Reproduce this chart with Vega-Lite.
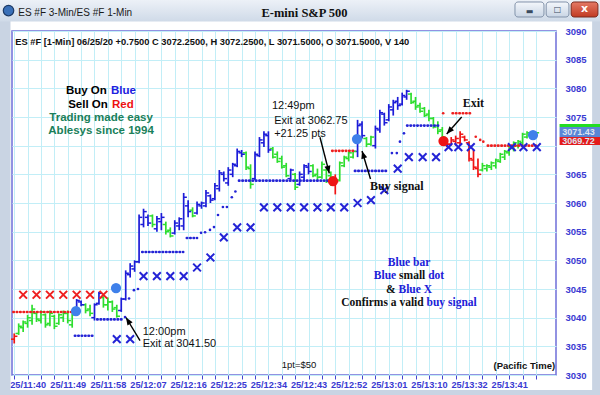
{
"$schema":"https://vega.github.io/schema/vega-lite/v6.json",
"width":544,"height":344,
"autosize":{"type":"none"},
"padding":{"left":12,"top":31,"right":44,"bottom":20},
"background":"#ffffff",
"config":{"view":{"stroke":"#6f6fd9","strokeWidth":1.5}},
"resolve":{"scale":{"color":"independent"}},
"datasets":{
"bars":[
{"i":0,"l":3035.5,"h":3037.25,"o":3036.25,"c":3036.75,"s":"sell"},
{"i":1,"l":3037.0,"h":3039.0,"o":3037.25,"c":3038.5,"s":"hold"},
{"i":2,"l":3037.5,"h":3039.5,"o":3038.25,"c":3039.25,"s":"hold"},
{"i":3,"l":3038.25,"h":3040.5,"o":3039.0,"c":3040.0,"s":"hold"},
{"i":4,"l":3038.75,"h":3042.25,"o":3039.5,"c":3041.5,"s":"hold"},
{"i":5,"l":3039.25,"h":3041.0,"o":3040.75,"c":3039.75,"s":"hold"},
{"i":6,"l":3039.0,"h":3041.25,"o":3039.5,"c":3041.0,"s":"hold"},
{"i":7,"l":3038.25,"h":3040.75,"o":3040.5,"c":3038.75,"s":"hold"},
{"i":8,"l":3038.5,"h":3041.25,"o":3039.0,"c":3040.75,"s":"hold"},
{"i":9,"l":3038.0,"h":3040.5,"o":3040.25,"c":3038.5,"s":"hold"},
{"i":10,"l":3038.75,"h":3040.75,"o":3039.0,"c":3040.5,"s":"hold"},
{"i":11,"l":3039.25,"h":3041.25,"o":3040.0,"c":3040.75,"s":"hold"},
{"i":12,"l":3039.0,"h":3041.25,"o":3040.75,"c":3039.5,"s":"hold"},
{"i":13,"l":3038.25,"h":3040.75,"o":3038.75,"c":3040.5,"s":"hold"},
{"i":14,"l":3041.25,"h":3043.25,"o":3041.5,"c":3043.0,"s":"buy"},
{"i":15,"l":3042.0,"h":3043.0,"o":3042.75,"c":3042.25,"s":"buy"},
{"i":16,"l":3040.75,"h":3042.5,"o":3042.25,"c":3041.25,"s":"hold"},
{"i":17,"l":3040.25,"h":3042.25,"o":3041.5,"c":3040.75,"s":"hold"},
{"i":18,"l":3039.5,"h":3042.5,"o":3040.0,"c":3042.25,"s":"buy"},
{"i":19,"l":3042.25,"h":3044.5,"o":3042.5,"c":3044.25,"s":"buy"},
{"i":20,"l":3041.75,"h":3043.75,"o":3043.5,"c":3042.25,"s":"hold"},
{"i":21,"l":3041.25,"h":3043.5,"o":3042.25,"c":3042.75,"s":"hold"},
{"i":22,"l":3041.0,"h":3043.0,"o":3042.75,"c":3041.5,"s":"hold"},
{"i":23,"l":3040.0,"h":3042.25,"o":3041.75,"c":3040.25,"s":"hold"},
{"i":24,"l":3041.0,"h":3043.5,"o":3041.25,"c":3043.25,"s":"buy"},
{"i":25,"l":3043.0,"h":3048.25,"o":3043.25,"c":3047.75,"s":"buy"},
{"i":26,"l":3047.0,"h":3049.5,"o":3047.5,"c":3049.0,"s":"buy"},
{"i":27,"l":3048.0,"h":3050.0,"o":3048.5,"c":3049.75,"s":"buy"},
{"i":28,"l":3049.5,"h":3058.0,"o":3049.75,"c":3057.5,"s":"buy"},
{"i":29,"l":3055.75,"h":3059.0,"o":3056.25,"c":3058.5,"s":"buy"},
{"i":30,"l":3056.0,"h":3058.0,"o":3057.5,"c":3056.5,"s":"buy"},
{"i":31,"l":3055.75,"h":3058.0,"o":3057.75,"c":3056.25,"s":"hold"},
{"i":32,"l":3055.0,"h":3057.75,"o":3055.5,"c":3057.25,"s":"buy"},
{"i":33,"l":3055.25,"h":3058.25,"o":3056.75,"c":3057.5,"s":"buy"},
{"i":34,"l":3054.5,"h":3056.75,"o":3056.25,"c":3055.0,"s":"hold"},
{"i":35,"l":3054.0,"h":3055.75,"o":3055.25,"c":3054.25,"s":"hold"},
{"i":36,"l":3054.5,"h":3057.0,"o":3054.75,"c":3056.5,"s":"buy"},
{"i":37,"l":3055.25,"h":3057.5,"o":3056.0,"c":3057.25,"s":"buy"},
{"i":38,"l":3055.25,"h":3061.75,"o":3056.0,"c":3061.0,"s":"buy"},
{"i":39,"l":3057.5,"h":3060.5,"o":3059.5,"c":3058.5,"s":"buy"},
{"i":40,"l":3057.5,"h":3059.25,"o":3058.75,"c":3057.75,"s":"hold"},
{"i":41,"l":3058.0,"h":3060.25,"o":3058.25,"c":3059.75,"s":"buy"},
{"i":42,"l":3059.0,"h":3060.25,"o":3059.5,"c":3060.0,"s":"buy"},
{"i":43,"l":3059.25,"h":3062.25,"o":3059.5,"c":3061.75,"s":"buy"},
{"i":44,"l":3060.0,"h":3061.5,"o":3061.25,"c":3060.5,"s":"buy"},
{"i":45,"l":3060.5,"h":3063.5,"o":3060.75,"c":3063.0,"s":"buy"},
{"i":46,"l":3062.0,"h":3065.75,"o":3062.5,"c":3065.25,"s":"buy"},
{"i":47,"l":3063.75,"h":3065.5,"o":3065.0,"c":3064.25,"s":"buy"},
{"i":48,"l":3063.0,"h":3066.25,"o":3063.5,"c":3065.75,"s":"buy"},
{"i":49,"l":3064.5,"h":3067.0,"o":3065.0,"c":3066.75,"s":"buy"},
{"i":50,"l":3066.25,"h":3069.5,"o":3066.5,"c":3069.0,"s":"buy"},
{"i":51,"l":3068.0,"h":3069.25,"o":3068.75,"c":3068.5,"s":"buy"},
{"i":52,"l":3065.75,"h":3069.0,"o":3068.75,"c":3066.25,"s":"hold"},
{"i":53,"l":3062.5,"h":3066.75,"o":3066.0,"c":3063.25,"s":"hold"},
{"i":54,"l":3064.0,"h":3069.0,"o":3064.25,"c":3068.5,"s":"buy"},
{"i":55,"l":3068.0,"h":3071.5,"o":3068.25,"c":3071.0,"s":"buy"},
{"i":56,"l":3069.75,"h":3072.5,"o":3070.5,"c":3072.0,"s":"buy"},
{"i":57,"l":3068.75,"h":3072.5,"o":3071.75,"c":3069.25,"s":"buy"},
{"i":58,"l":3067.75,"h":3069.75,"o":3069.5,"c":3068.0,"s":"hold"},
{"i":59,"l":3067.0,"h":3069.0,"o":3068.5,"c":3067.25,"s":"hold"},
{"i":60,"l":3066.0,"h":3068.25,"o":3067.75,"c":3066.25,"s":"hold"},
{"i":61,"l":3064.5,"h":3067.0,"o":3066.5,"c":3064.75,"s":"hold"},
{"i":62,"l":3064.0,"h":3066.0,"o":3064.25,"c":3065.75,"s":"buy"},
{"i":63,"l":3062.25,"h":3065.25,"o":3065.0,"c":3062.75,"s":"hold"},
{"i":64,"l":3063.0,"h":3065.5,"o":3063.25,"c":3065.0,"s":"buy"},
{"i":65,"l":3064.0,"h":3066.75,"o":3064.5,"c":3066.5,"s":"buy"},
{"i":66,"l":3065.0,"h":3067.0,"o":3066.25,"c":3065.5,"s":"buy"},
{"i":67,"l":3064.5,"h":3066.75,"o":3066.5,"c":3064.75,"s":"hold"},
{"i":68,"l":3064.0,"h":3066.0,"o":3065.0,"c":3064.5,"s":"hold"},
{"i":69,"l":3064.25,"h":3067.25,"o":3064.5,"c":3066.75,"s":"hold"},
{"i":70,"l":3063.5,"h":3066.0,"o":3065.75,"c":3063.75,"s":"hold"},
{"i":71,"l":3063.0,"h":3065.5,"o":3064.75,"c":3063.5,"s":"hold"},
{"i":72,"l":3061.5,"h":3065.0,"o":3063.5,"c":3063.75,"s":"sell"},
{"i":73,"l":3063.75,"h":3067.25,"o":3064.0,"c":3067.0,"s":"hold"},
{"i":74,"l":3066.25,"h":3068.25,"o":3066.5,"c":3068.0,"s":"hold"},
{"i":75,"l":3067.25,"h":3069.0,"o":3067.75,"c":3068.75,"s":"hold"},
{"i":76,"l":3067.75,"h":3069.25,"o":3068.0,"c":3069.0,"s":"hold"},
{"i":77,"l":3068.0,"h":3074.5,"o":3069.0,"c":3073.5,"s":"buy"},
{"i":78,"l":3071.25,"h":3074.25,"o":3073.75,"c":3071.75,"s":"buy"},
{"i":79,"l":3069.75,"h":3071.5,"o":3071.25,"c":3070.25,"s":"hold"},
{"i":80,"l":3070.0,"h":3071.75,"o":3070.25,"c":3071.5,"s":"hold"},
{"i":81,"l":3069.5,"h":3073.5,"o":3070.0,"c":3073.0,"s":"buy"},
{"i":82,"l":3072.25,"h":3076.25,"o":3072.75,"c":3075.75,"s":"buy"},
{"i":83,"l":3073.5,"h":3075.75,"o":3075.5,"c":3074.0,"s":"buy"},
{"i":84,"l":3074.25,"h":3077.25,"o":3074.5,"c":3076.75,"s":"buy"},
{"i":85,"l":3075.25,"h":3078.0,"o":3076.25,"c":3077.5,"s":"buy"},
{"i":86,"l":3076.25,"h":3078.5,"o":3077.75,"c":3077.0,"s":"buy"},
{"i":87,"l":3077.0,"h":3079.25,"o":3077.25,"c":3078.75,"s":"buy"},
{"i":88,"l":3078.0,"h":3079.75,"o":3078.5,"c":3079.5,"s":"buy"},
{"i":89,"l":3077.25,"h":3079.25,"o":3079.0,"c":3077.5,"s":"hold"},
{"i":90,"l":3076.25,"h":3078.5,"o":3077.75,"c":3076.75,"s":"hold"},
{"i":91,"l":3075.75,"h":3077.5,"o":3077.0,"c":3076.0,"s":"hold"},
{"i":92,"l":3075.0,"h":3076.75,"o":3076.5,"c":3075.25,"s":"hold"},
{"i":93,"l":3074.25,"h":3076.25,"o":3075.5,"c":3074.75,"s":"hold"},
{"i":94,"l":3073.0,"h":3075.0,"o":3074.75,"c":3073.25,"s":"hold"},
{"i":95,"l":3072.0,"h":3074.25,"o":3073.5,"c":3072.5,"s":"hold"},
{"i":96,"l":3071.25,"h":3073.25,"o":3072.75,"c":3071.5,"s":"hold"},
{"i":97,"l":3069.75,"h":3071.25,"o":3071.0,"c":3070.25,"s":"sell"},
{"i":98,"l":3070.0,"h":3071.5,"o":3070.25,"c":3071.0,"s":"sell"},
{"i":99,"l":3070.0,"h":3071.75,"o":3070.75,"c":3071.25,"s":"sell"},
{"i":100,"l":3070.0,"h":3072.5,"o":3070.5,"c":3072.0,"s":"sell"},
{"i":101,"l":3070.75,"h":3071.75,"o":3071.5,"c":3071.0,"s":"sell"},
{"i":102,"l":3067.25,"h":3070.75,"o":3070.5,"c":3067.75,"s":"sell"},
{"i":103,"l":3065.75,"h":3069.25,"o":3067.5,"c":3066.25,"s":"sell"},
{"i":104,"l":3064.5,"h":3067.75,"o":3066.0,"c":3065.0,"s":"sell"},
{"i":105,"l":3065.5,"h":3067.0,"o":3065.75,"c":3066.5,"s":"hold"},
{"i":106,"l":3065.5,"h":3066.75,"o":3066.0,"c":3066.5,"s":"hold"},
{"i":107,"l":3065.75,"h":3067.25,"o":3066.25,"c":3067.0,"s":"hold"},
{"i":108,"l":3066.0,"h":3067.75,"o":3066.5,"c":3067.5,"s":"hold"},
{"i":109,"l":3067.0,"h":3068.75,"o":3067.25,"c":3068.5,"s":"hold"},
{"i":110,"l":3067.5,"h":3069.25,"o":3068.0,"c":3069.0,"s":"hold"},
{"i":111,"l":3068.25,"h":3070.0,"o":3068.75,"c":3069.75,"s":"hold"},
{"i":112,"l":3069.0,"h":3070.75,"o":3069.5,"c":3070.5,"s":"hold"},
{"i":113,"l":3069.5,"h":3071.0,"o":3070.0,"c":3070.75,"s":"hold"},
{"i":114,"l":3069.75,"h":3072.25,"o":3070.5,"c":3072.0,"s":"hold"},
{"i":115,"l":3071.25,"h":3072.5,"o":3071.5,"c":3072.25,"s":"hold"},
{"i":116,"l":3071.25,"h":3072.5,"o":3072.0,"c":3071.75,"s":"hold"},
{"i":117,"l":3071.5,"h":3072.25,"o":3071.5,"c":3072.25,"s":"hold"}
]
},
"encoding":{
"x":{"field":"i","type":"quantitative","scale":{"domain":[-0.5,121.5],"nice":false,"zero":false},
"axis":{"title":null,"orient":"bottom","values":[0,3,6,9,12,15,18,21,24,27,30,33,36,39,42,45,48,51,54,57,60,63,66,69,72,75,78,81,84,87,90,93,96,99,102,105,108,111,114,117],"grid":true,"gridColor":"#c2eef7","gridWidth":1,"domain":false,"tickColor":"#4545d0","tickSize":4,"tickWidth":1,"labelExpr":"datum.value % 9 == 3 ? ['25/11:40','25/11:49','25/11:58','25/12:07','25/12:16','25/12:25','25/12:34','25/12:43','25/12:52','25/13:01','25/13:10','25/13:32','25/13:41'][(datum.value - 3) / 9] : ''","labelFont":"Liberation Sans","labelFontWeight":"bold","labelFontSize":9.2,"labelColor":"#3a3ad2","labelPadding":1,"labelOverlap":false,"labelFlush":false,"labelBound":false}},
"y":{"field":"p","type":"quantitative","scale":{"domain":[3030,3090],"nice":false,"zero":false},
"axis":{"title":null,"orient":"right","values":[3030,3035,3040,3045,3050,3055,3060,3065,3070,3075,3080,3085,3090],"labelExpr":"datum.value == 3070 ? '' : format(datum.value, 'd')","grid":true,"gridColor":"#c2eef7","gridWidth":1,"domain":false,"ticks":false,"labelPadding":9,"labelFont":"Liberation Sans","labelFontWeight":"bold","labelFontSize":9.5,"labelColor":"#3a3ad2","labelAlign":"left","labelOverlap":false,"labelBound":false}}
},
"layer":[
{"data":{"values":[{"i":-3.3,"i2":-0.84,"p":3095.6,"p2":3026.3},{"i":129.6,"i2":131.5,"p":3095.6,"p2":3026.3},{"i":-3.3,"i2":131.5,"p":3027.4,"p2":3026.3}]},
"mark":{"type":"rect","fill":"#c9d4e3"},"encoding":{"x2":{"field":"i2"},"y2":{"field":"p2"}}},
{"data":{"values":[{"i":-3.3,"i2":131.5,"p":3095.6,"p2":3091.66}]},
"mark":{"type":"rect","fill":{"gradient":"linear","x1":0,"y1":0,"x2":0,"y2":1,"stops":[{"offset":0,"color":"#eef2f8"},{"offset":1,"color":"#cfdae8"}]}},"encoding":{"x2":{"field":"i2"},"y2":{"field":"p2"}}},
{"data":{"values":[{"i":112.3,"i2":118.8,"p":3095.06,"p2":3092.44},{"i":119.3,"i2":124.4,"p":3095.06,"p2":3092.44}]},
"mark":{"type":"rect","cornerRadius":3,"fill":{"gradient":"linear","x1":0,"y1":0,"x2":0,"y2":1,"stops":[{"offset":0,"color":"#f4f7fb"},{"offset":1,"color":"#c9d5e5"}]},"stroke":"#8393aa","strokeWidth":1},"encoding":{"x2":{"field":"i2"},"y2":{"field":"p2"}}},
{"data":{"values":[{"i":124.9,"i2":130.9,"p":3095.06,"p2":3092.44}]},
"mark":{"type":"rect","cornerRadius":3,"fill":{"gradient":"linear","x1":0,"y1":0,"x2":0,"y2":1,"stops":[{"offset":0,"color":"#e47a66"},{"offset":1,"color":"#c13a22"}]},"stroke":"#7b2b1f","strokeWidth":1},"encoding":{"x2":{"field":"i2"},"y2":{"field":"p2"}}},
{"data":{"values":[{"i":115.55,"p":3093.3,"t":"▬"},{"i":121.85,"p":3093.75,"t":"□"}]},
"mark":{"type":"text","font":"DejaVu Sans","fontSize":8,"color":"#3a4a60","align":"center","baseline":"middle"},"encoding":{"text":{"field":"t"}}},
{"data":{"values":[{"i":127.9,"p":3093.85,"t":"x"}]},
"mark":{"type":"text","font":"DejaVu Sans","fontSize":11,"fontWeight":"bold","color":"#ffffff","align":"center","baseline":"middle"},"encoding":{"text":{"field":"t"}}},
{"data":{"values":[{"i":-1.28,"p":3093.57}]},
"mark":{"type":"point","shape":"circle","filled":true,"size":110,"fill":"#3a70b8","stroke":"#1d3a66","strokeWidth":1.2,"opacity":1}},
{"data":{"values":[{"i":122.3,"i2":131.5,"p":3073.78,"p2":3073.25}]},"mark":{"type":"rect","fill":"#22dd22"},"encoding":{"x2":{"field":"i2"},"y2":{"field":"p2"}}},
{"data":{"values":[{"i":122.3,"i2":131.5,"p":3073.25,"p2":3071.51}]},"mark":{"type":"rect","fill":"#5a86d6"},"encoding":{"x2":{"field":"i2"},"y2":{"field":"p2"}}},
{"data":{"values":[{"i":122.3,"i2":131.5,"p":3071.51,"p2":3070.12}]},"mark":{"type":"rect","fill":"#e41b1b"},"encoding":{"x2":{"field":"i2"},"y2":{"field":"p2"}}},
{"data":{"values":[{"i":122.9,"p":3072.4,"t":"3071.43"},{"i":122.9,"p":3070.82,"t":"3069.72"}]},
"mark":{"type":"text","font":"Liberation Sans","fontSize":9,"fontWeight":"bold","color":"#dfe3f0","align":"left","baseline":"middle"},"encoding":{"text":{"field":"t"}}},
{"data":{"name":"bars"},"mark":{"type":"rule","strokeWidth":1.7},
"encoding":{"y":{"field":"l","type":"quantitative","title":null},"y2":{"field":"h"},"color":{"field":"s","type":"nominal","scale":{"domain":["buy","hold","sell"],"range":["#1c1cd8","#2ede2e","#f01414"]},"legend":null}}},
{"data":{"name":"bars"},"mark":{"type":"tick","orient":"horizontal","size":3.2,"thickness":1.5,"xOffset":-1.6,"opacity":1},
"encoding":{"y":{"field":"o","type":"quantitative","title":null},"color":{"field":"s","type":"nominal","scale":{"domain":["buy","hold","sell"],"range":["#1c1cd8","#2ede2e","#f01414"]},"legend":null}}},
{"data":{"name":"bars"},"mark":{"type":"tick","orient":"horizontal","size":3.2,"thickness":1.5,"xOffset":1.6,"opacity":1},
"encoding":{"y":{"field":"c","type":"quantitative","title":null},"color":{"field":"s","type":"nominal","scale":{"domain":["buy","hold","sell"],"range":["#1c1cd8","#2ede2e","#f01414"]},"legend":null}}},
{"data":{"values":[
{"i":-0.2,"i2":12.9,"p":3041.0,"s":"sell"},{"i":71.3,"i2":76.5,"p":3069.1,"s":"sell"},{"i":98.3,"i2":102.6,"p":3075.65,"s":"sell"},{"i":106.2,"i2":117.2,"p":3070.0,"s":"sell"},
{"i":13.6,"i2":18.1,"p":3036.85,"s":"buy"},{"i":18.6,"i2":24.2,"p":3039.7,"s":"buy"},{"i":28.7,"i2":37.9,"p":3051.45,"s":"buy"},{"i":38.7,"i2":41.0,"p":3053.9,"s":"buy"},{"i":50.4,"i2":71.0,"p":3063.9,"s":"buy"},{"i":76.4,"i2":83.8,"p":3065.6,"s":"buy"},{"i":88.1,"i2":95.5,"p":3073.5,"s":"buy"}]},
"mark":{"type":"rule","strokeWidth":2.6,"strokeDash":[0.5,2.9],"strokeCap":"round"},
"encoding":{"x2":{"field":"i2"},"color":{"field":"s","type":"nominal","scale":{"domain":["buy","sell"],"range":["#2424d6","#ee1f1f"]},"legend":null}}},
{"data":{"values":[
{"i":96.2,"p":3075.65,"s":"sell"},{"i":103.5,"p":3071.55,"s":"sell"},{"i":104.5,"p":3071.0,"s":"sell"},{"i":105.2,"p":3070.7,"s":"sell"},
{"i":24.85,"p":3040.1,"s":"buy"},{"i":25.75,"p":3043.35,"s":"buy"},{"i":26.85,"p":3044.8,"s":"buy"},{"i":27.75,"p":3045.0,"s":"buy"},
{"i":41.9,"p":3054.8,"s":"buy"},{"i":42.8,"p":3054.9,"s":"buy"},{"i":43.9,"p":3055.3,"s":"buy"},{"i":44.8,"p":3055.8,"s":"buy"},{"i":45.7,"p":3057.9,"s":"buy"},{"i":46.8,"p":3059.3,"s":"buy"},{"i":47.7,"p":3059.3,"s":"buy"},{"i":48.8,"p":3061.0,"s":"buy"},{"i":49.6,"p":3062.0,"s":"buy"},
{"i":84.7,"p":3068.7,"s":"buy"},{"i":85.8,"p":3068.7,"s":"buy"},{"i":86.5,"p":3070.7,"s":"buy"},{"i":87.4,"p":3072.15,"s":"buy"}]},
"mark":{"type":"circle","size":7,"opacity":1},
"encoding":{"color":{"field":"s","type":"nominal","scale":{"domain":["buy","sell"],"range":["#2424d6","#ee1f1f"]},"legend":null}}},
{"data":{"values":[
{"i":2,"p":3044.0,"s":"sell"},{"i":5,"p":3044.0,"s":"sell"},{"i":8,"p":3044.0,"s":"sell"},{"i":11,"p":3044.0,"s":"sell"},{"i":14,"p":3044.0,"s":"sell"},{"i":17,"p":3044.0,"s":"sell"},{"i":20,"p":3044.0,"s":"sell"},
{"i":23,"p":3036.25,"s":"buy"},{"i":26,"p":3036.25,"s":"buy"},
{"i":29,"p":3047.25,"s":"buy"},{"i":32,"p":3047.25,"s":"buy"},{"i":35,"p":3047.25,"s":"buy"},{"i":38,"p":3047.25,"s":"buy"},
{"i":41,"p":3048.75,"s":"buy"},{"i":44,"p":3050.5,"s":"buy"},{"i":47,"p":3054.0,"s":"buy"},{"i":50,"p":3055.75,"s":"buy"},{"i":53,"p":3055.75,"s":"buy"},
{"i":56,"p":3059.25,"s":"buy"},{"i":59,"p":3059.25,"s":"buy"},{"i":62,"p":3059.25,"s":"buy"},{"i":65,"p":3059.25,"s":"buy"},{"i":68,"p":3059.25,"s":"buy"},{"i":71,"p":3059.25,"s":"buy"},{"i":74,"p":3059.25,"s":"buy"},
{"i":77,"p":3060.0,"s":"buy"},{"i":80,"p":3060.5,"s":"buy"},{"i":83,"p":3062.25,"s":"buy"},{"i":86,"p":3066.0,"s":"buy"},
{"i":88.5,"p":3068.0,"s":"buy"},{"i":91.6,"p":3068.0,"s":"buy"},{"i":94.6,"p":3068.0,"s":"buy"},
{"i":97.4,"p":3069.75,"s":"buy"},{"i":99.6,"p":3069.75,"s":"buy"},{"i":102.4,"p":3069.75,"s":"buy"},
{"i":111.6,"p":3069.75,"s":"buy"},{"i":114.2,"p":3069.75,"s":"buy"},{"i":117.2,"p":3069.75,"s":"buy"}]},
"mark":{"type":"point","shape":"M-1,-1L1,1M1,-1L-1,1","filled":false,"size":60,"strokeWidth":2,"opacity":1},
"encoding":{"color":{"field":"s","type":"nominal","scale":{"domain":["buy","sell"],"range":["#2424d6","#ee1f1f"]},"legend":null}}},
{"data":{"values":[
{"i":13.85,"p":3041.16,"s":"buy"},{"i":22.83,"p":3045.17,"s":"buy"},{"i":76.87,"p":3071.16,"s":"buy"},{"i":116.34,"p":3071.86,"s":"buy"},
{"i":71.49,"p":3063.83,"s":"sell"},{"i":96.27,"p":3070.81,"s":"sell"}]},
"mark":{"type":"circle","size":105,"opacity":1},
"encoding":{"color":{"field":"s","type":"nominal","scale":{"domain":["buy","sell"],"range":["#3f80ea","#ee1414"]},"legend":null}}},
{"data":{"values":[
{"i":28.21,"p":3036.0,"i2":25.07,"p2":3040.03},
{"i":68.57,"p":3071.46,"i2":70.66,"p2":3065.18},
{"i":79.9,"p":3064.19,"i2":78.0,"p2":3069.07},
{"i":100.35,"p":3075.0,"i2":96.99,"p2":3072.03}]},
"mark":{"type":"rule","color":"#000000","strokeWidth":1.4},
"encoding":{"x2":{"field":"i2"},"y2":{"field":"p2"}}},
{"data":{"values":[{"i":25.07,"p":3040.03}]},"mark":{"type":"point","shape":"M0,0L0.4,1L-0.4,1Z","filled":true,"size":230,"color":"#000000","opacity":1,"angle":328}},
{"data":{"values":[{"i":70.66,"p":3065.18}]},"mark":{"type":"point","shape":"M0,0L0.4,1L-0.4,1Z","filled":true,"size":230,"color":"#000000","opacity":1,"angle":165.5}},
{"data":{"values":[{"i":78.0,"p":3069.07}]},"mark":{"type":"point","shape":"M0,0L0.4,1L-0.4,1Z","filled":true,"size":230,"color":"#000000","opacity":1,"angle":343}},
{"data":{"values":[{"i":96.99,"p":3072.03}]},"mark":{"type":"point","shape":"M0,0L0.4,1L-0.4,1Z","filled":true,"size":230,"color":"#000000","opacity":1,"angle":221.4}},
{"data":{"values":[{"i":0.9,"p":3093.2,"t":"ES #F 3-Min/ES #F 1-Min"}]},
"mark":{"type":"text","font":"Liberation Sans","fontSize":10,"color":"#1a1a1a","align":"left","baseline":"middle"},"encoding":{"text":{"field":"t"}}},
{"data":{"values":[{"i":65.1,"p":3093.2,"t":"E-mini S&P 500"}]},
"mark":{"type":"text","font":"Liberation Serif","fontSize":12.5,"fontWeight":"bold","color":"#111111","align":"center","baseline":"middle"},"encoding":{"text":{"field":"t"}}},
{"data":{"values":[{"i":0.25,"p":3088.1,"t":"ES #F [1-Min] 06/25/20  +0.7500 C 3072.2500, H 3072.2500, L 3071.5000, O 3071.5000, V 140"}]},
"mark":{"type":"text","font":"Liberation Sans","fontSize":9.3,"fontWeight":"bold","color":"#111111","align":"left","baseline":"middle"},"encoding":{"text":{"field":"t"}}},
{"data":{"values":[{"i":11.6,"p":3079.5,"t":"Buy On"},{"i":12.1,"p":3077.15,"t":"Sell On"}]},
"mark":{"type":"text","font":"Liberation Sans","fontSize":11.5,"fontWeight":"bold","color":"#000000","align":"left","baseline":"middle"},"encoding":{"text":{"field":"t"}}},
{"data":{"values":[{"i":21.71,"p":3079.5,"t":"Blue"}]},
"mark":{"type":"text","font":"Liberation Sans","fontSize":11.5,"fontWeight":"bold","color":"#2020e0","align":"left","baseline":"middle"},"encoding":{"text":{"field":"t"}}},
{"data":{"values":[{"i":21.93,"p":3077.15,"t":"Red"}]},
"mark":{"type":"text","font":"Liberation Sans","fontSize":11.5,"fontWeight":"bold","color":"#ee1111","align":"left","baseline":"middle"},"encoding":{"text":{"field":"t"}}},
{"data":{"values":[{"i":19.47,"p":3074.9,"t":"Trading made easy"},{"i":19.47,"p":3072.6,"t":"Ablesys since 1994"}]},
"mark":{"type":"text","font":"Liberation Sans","fontSize":11.5,"fontWeight":"bold","color":"#1a7f5a","align":"center","baseline":"middle"},"encoding":{"text":{"field":"t"}}},
{"data":{"values":[{"i":28.82,"p":3037.55,"t":"12:00pm"},{"i":28.82,"p":3035.35,"t":"Exit at 3041.50"},{"i":57.8,"p":3076.92,"t":"12:49pm"},{"i":58.3,"p":3074.35,"t":"Exit at 3062.75"},{"i":58.3,"p":3072.03,"t":"+21.25 pts"}]},
"mark":{"type":"text","font":"Liberation Sans","fontSize":11,"color":"#111111","align":"left","baseline":"middle"},"encoding":{"text":{"field":"t"}}},
{"data":{"values":[{"i":79.79,"p":3062.96,"t":"Buy signal"},{"i":100.58,"p":3077.49,"t":"Exit"}]},
"mark":{"type":"text","font":"Liberation Serif","fontSize":12,"fontWeight":"bold","color":"#111111","align":"left","baseline":"middle"},"encoding":{"text":{"field":"t"}}},
{"data":{"values":[{"i":86.31,"p":3047.22,"t":"small"},{"i":83.38,"p":3044.86,"t":"&"},{"i":73.34,"p":3042.51,"t":"Confirms a valid"}]},
"mark":{"type":"text","font":"Liberation Serif","fontSize":11.5,"fontWeight":"bold","color":"#111111","align":"left","baseline":"middle"},"encoding":{"text":{"field":"t"}}},
{"data":{"values":[{"i":83.77,"p":3049.58,"t":"Blue bar"},{"i":80.65,"p":3047.22,"t":"Blue"},{"i":92.84,"p":3047.22,"t":"dot"},{"i":86.18,"p":3044.86,"t":"Blue X"},{"i":92.47,"p":3042.51,"t":"buy signal"}]},
"mark":{"type":"text","font":"Liberation Serif","fontSize":11.5,"fontWeight":"bold","color":"#2020d8","align":"left","baseline":"middle"},"encoding":{"text":{"field":"t"}}},
{"data":{"values":[{"i":63.87,"p":3031.74,"t":"1pt=$50"}]},
"mark":{"type":"text","font":"Liberation Sans","fontSize":9.5,"color":"#111111","align":"center","baseline":"middle"},"encoding":{"text":{"field":"t"}}},
{"data":{"values":[{"i":121.3,"p":3031.57,"t":"(Pacific Time)"}]},
"mark":{"type":"text","font":"Liberation Sans","fontSize":9.5,"fontWeight":"bold","color":"#111111","align":"right","baseline":"middle"},"encoding":{"text":{"field":"t"}}}
]
}
